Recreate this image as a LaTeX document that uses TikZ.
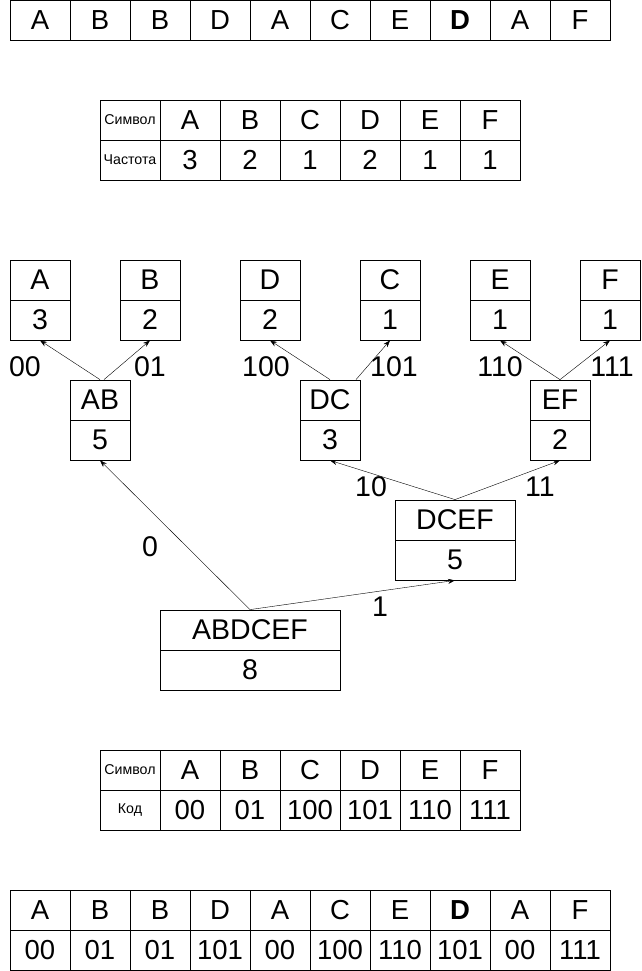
\documentclass[tikz,border=0pt]{standalone}
\usepackage{fontspec}
\setmainfont{Liberation Sans}
\usetikzlibrary{arrows.meta}

\tikzset{
  cell/.style={draw,line width=.8pt,minimum width=60pt,minimum height=40pt,inner sep=0pt,font=\fontsize{27.5}{30}\selectfont},
  small/.style={cell,font=\fontsize{14.2}{16}\selectfont},
  knot/.style={cell,font=\fontsize{28.5}{30}\selectfont},
  code/.style={inner sep=0pt,font=\fontsize{28.5}{30}\selectfont},
}

\begin{document}
\begin{tikzpicture}[x=1pt,y=-1pt,>={Stealth[length=7pt,width=5pt]}]
\useasboundingbox (0,0) rectangle (641,971);
% message
\foreach \s [count=\i] in {A,B,B,D,A,C,E,\textbf{D},A,F}
  \node[cell] (m\i) at (\i*60-20,20) {\s};
% frequencies
\node[small] (fs) at (130,120) {Символ};
\node[small] (ff) at (130,160) {Частота};
\foreach \s/\f [count=\i] in {A/3,B/2,C/1,D/2,E/1,F/1} {
  \node[cell] (fs\i) at (130+\i*60,120) {\s};
  \node[cell] (ff\i) at (130+\i*60,160) {\f};
}
% tree
\foreach \n/\f/\x in {A/3/40,B/2/150,D/2/270,C/1/390,E/1/500,F/1/610} {
  \node[knot] (\n) at (\x,280) {\n};
  \node[knot] (\n-w) at (\x,320) {\f};
}
\foreach \n/\f/\x in {AB/5/100,DC/3/330,EF/2/560} {
  \node[knot] (\n) at (\x,400) {\n};
  \node[knot] (\n-w) at (\x,440) {\f};
}
\node[knot,minimum width=120pt] (DCEF) at (455,520) {DCEF};
\node[knot,minimum width=120pt] (DCEF-w) at (455,560) {5};
\node[knot,minimum width=180pt] (ABDCEF) at (250,630) {ABDCEF};
\node[knot,minimum width=180pt] (ABDCEF-w) at (250,670) {8};
\draw[->,thin] (AB.north) -- (A-w.south);
\draw[->,thin] ([xshift=4pt]AB.north) -- (B-w.south);
\draw[->,thin] (DC.north) -- (D-w.south);
\draw[->,thin] ([xshift=26pt]DC.north) -- (C-w.south);
\draw[->,thin] (EF.north) -- (E-w.south);
\draw[->,thin] (EF.north) -- (F-w.south);
\draw[->,thin] (DCEF.north) -- (DC-w.south);
\draw[->,thin] (DCEF.north) -- (EF-w.south);
\draw[->,thin] (ABDCEF.north) -- (AB-w.south);
\draw[->,thin] (ABDCEF.north) -- (DCEF-w.south);
\node[code] (c00) at (25,367) {00};
\node[code] (c01) at (150,367) {01};
\node[code] (c100) at (266,367) {100};
\node[code] (c101) at (394,367) {101};
\node[code] (c110) at (500,367) {110};
\node[code] (c111) at (612,367) {111};
\node[code] (c10) at (371,487) {10};
\node[code] (c11) at (540,487) {11};
\node[code] (c0) at (150,547) {0};
\node[code] (c1) at (380,607) {1};
% codes
\node[small] (ks) at (130,770) {Символ};
\node[small] (kc) at (130,810) {Код};
\foreach \s/\c [count=\i] in {A/00,B/01,C/100,D/101,E/110,F/111} {
  \node[cell] (ks\i) at (130+\i*60,770) {\s};
  \node[cell] (kc\i) at (130+\i*60,810) {\c};
}
% encoded message
\foreach \s/\c [count=\i] in {A/00,B/01,B/01,D/101,A/00,C/100,E/110,\textbf{D}/101,A/00,F/111} {
  \node[cell] (e\i) at (\i*60-20,910) {\s};
  \node[cell] (ec\i) at (\i*60-20,950) {\c};
}
\end{tikzpicture}
\end{document}
